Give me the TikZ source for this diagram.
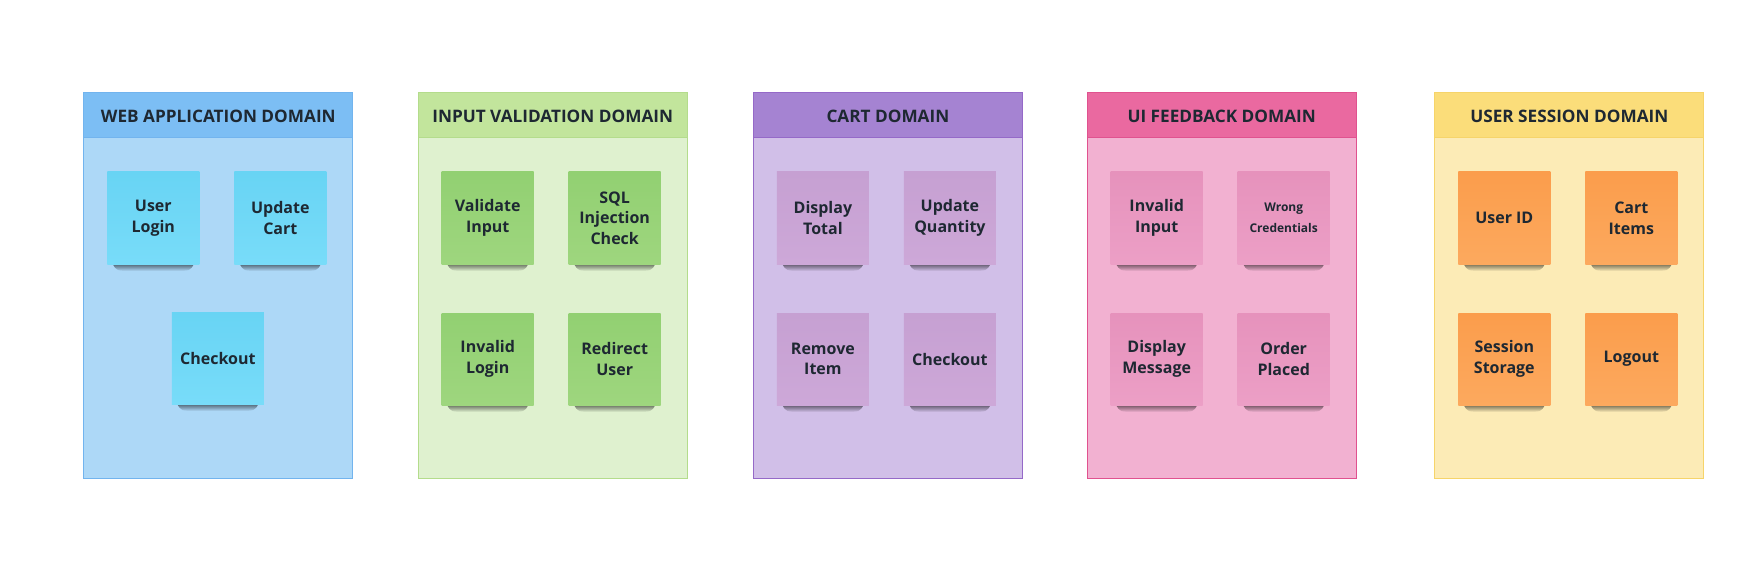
\documentclass[tikz,border=0pt]{standalone}
\usepackage{fontspec}
\setmainfont{Open Sans}
\usetikzlibrary{fadings}
\definecolor{txt}{HTML}{1E2832}
\definecolor{hA}{HTML}{7CBEF4}\definecolor{bA}{HTML}{ADD8F7}\definecolor{rA}{HTML}{72B4EE}\definecolor{tA}{HTML}{68D4F4}\definecolor{uA}{HTML}{78DCF9}
\definecolor{hB}{HTML}{C2E59C}\definecolor{bB}{HTML}{DFF1CF}\definecolor{rB}{HTML}{B4DC8C}\definecolor{tB}{HTML}{92D072}\definecolor{uB}{HTML}{9ED67E}
\definecolor{hC}{HTML}{A583D2}\definecolor{bC}{HTML}{D1BFE8}\definecolor{rC}{HTML}{9569C8}\definecolor{tC}{HTML}{C6A0D2}\definecolor{uC}{HTML}{CDA8D8}
\definecolor{hD}{HTML}{EA69A0}\definecolor{bD}{HTML}{F2B1D1}\definecolor{rD}{HTML}{E0528F}\definecolor{tD}{HTML}{E692BC}\definecolor{uD}{HTML}{EC9FC6}
\definecolor{hE}{HTML}{FBDD7A}\definecolor{bE}{HTML}{FCEBB6}\definecolor{rE}{HTML}{F6D46A}\definecolor{tE}{HTML}{FB9D4C}\definecolor{uE}{HTML}{FCA95E}
\tikzset{
  panelbody/.style={draw=#1, line width=1pt, minimum width=269pt, minimum height=386pt, inner sep=0pt, anchor=north west},
  panelhead/.style={draw=#1, line width=1pt, minimum width=269pt, minimum height=45pt, inner sep=0pt, anchor=north west},
  headtext/.style={text=txt, inner sep=0pt, font=\fontsize{17.2}{20}\selectfont\bfseries},
  sticky/.style={minimum width=92pt, minimum height=92pt, inner sep=0pt, align=center, text=txt,
     font=\fontsize{16}{20.7}\selectfont\bfseries},
  shadowband/.style={fill=black, opacity=0.6, path fading=south},
}
\newcommand\stk[6]{%
  \fill[shadowband] ({#2-41},{#3+45}) -- ({#2+41},{#3+45}) .. controls ({#2+37},{#3+53}) .. ({#2+20},{#3+53}) -- ({#2-20},{#3+53}) .. controls ({#2-37},{#3+53}) .. cycle;
  \node[sticky, top color=#4, bottom color=#5] (#1) at (#2,#3) {#6};
}
\newcommand\pnl[6]{% name, left, head, body, border, title
  \node[panelbody=#5, fill=#4] (#1) at (#2,92) {};
  \node[panelhead=#5, fill=#3] (#1h) at (#2,92) {};
  \node[headtext] (#1t) at ($(#1h.center)+(0,1.5)$) {#6};
}
\usetikzlibrary{calc}
\begin{document}
\begin{tikzpicture}[x=1pt,y=-1pt]
\useasboundingbox[fill=white] (0,0) rectangle (1762,567);
% panel 1
\pnl{pa}{83.3}{hA}{bA}{rA}{WEB APPLICATION DOMAIN}
\stk{a1}{153.3}{218}{tA}{uA}{User\\Login}
\stk{a2}{280.3}{218}{tA}{uA}{Update\\Cart}
\stk{a3}{217.8}{358}{tA}{uA}{Checkout}
% panel 2
\pnl{pb}{417.7}{hB}{bB}{rB}{INPUT VALIDATION DOMAIN}
\stk{b1}{487.7}{218}{tB}{uB}{Validate\\Input}
\stk{b2}{614.7}{218}{tB}{uB}{SQL\\Injection\\Check}
\stk{b3}{487.7}{359}{tB}{uB}{Invalid\\Login}
\stk{b4}{614.7}{359}{tB}{uB}{Redirect\\User}
% panel 3
\pnl{pc}{752.9}{hC}{bC}{rC}{CART DOMAIN}
\stk{c1}{822.9}{218}{tC}{uC}{Display\\Total}
\stk{c2}{949.9}{218}{tC}{uC}{Update\\Quantity}
\stk{c3}{822.9}{359}{tC}{uC}{Remove\\Item}
\stk{c4}{949.9}{359}{tC}{uC}{Checkout}
% panel 4
\pnl{pd}{1086.7}{hD}{bD}{rD}{UI FEEDBACK DOMAIN}
\stk{d1}{1156.7}{218}{tD}{uD}{Invalid\\Input}
\stk{d2}{1283.7}{218}{tD}{uD}{\fontsize{12}{17.3}\selectfont Wrong\\\fontsize{12}{17.3}\selectfont Credentials}
\stk{d3}{1156.7}{359}{tD}{uD}{Display\\Message}
\stk{d4}{1283.7}{359}{tD}{uD}{Order\\Placed}
% panel 5
\pnl{pe}{1434.3}{hE}{bE}{rE}{USER SESSION DOMAIN}
\stk{e1}{1504.3}{218}{tE}{uE}{User ID}
\stk{e2}{1631.3}{218}{tE}{uE}{Cart\\Items}
\stk{e3}{1504.3}{359}{tE}{uE}{Session\\Storage}
\stk{e4}{1631.3}{359}{tE}{uE}{Logout}
\end{tikzpicture}
\end{document}
